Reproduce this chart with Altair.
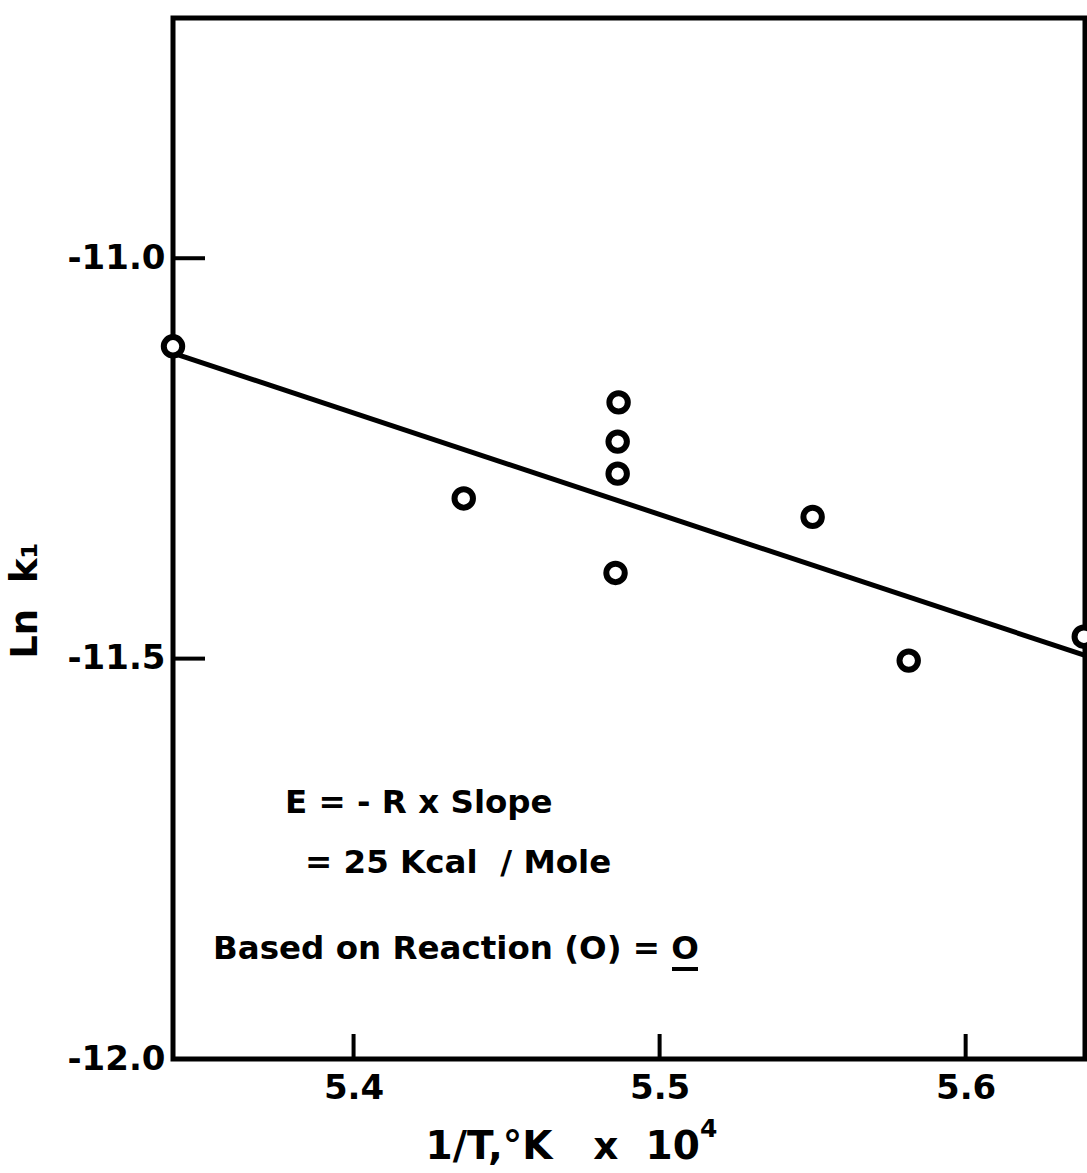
import altair as alt
import pandas as pd

# Rate constant data: ln k1 against reciprocal temperature (x 10^4)
inv_temp = [5.341, 5.436, 5.4866, 5.4863, 5.4863, 5.4856, 5.550, 5.5814, 5.6386]
ln_k1 = [-11.110, -11.300, -11.180, -11.229, -11.269, -11.393, -11.323, -11.5025, -11.4726]

# Least-squares line end points
fit_x = [5.341, 5.639]
fit_y = [-11.1185, -11.496]

x_ticks = [5.4, 5.5, 5.6]
y_ticks = [-12.0, -11.5, -11.0]
y_inner_ticks = [-11.0, -11.5]

W, H = 912, 1041
LEFT, TOP = 173, 18
FONT = "DejaVu Sans"
NB = "\u00a0"

x_scale = alt.Scale(domain=[5.341, 5.639], nice=False, zero=False)
y_scale = alt.Scale(domain=[-12.0, -10.7], nice=False, zero=False)

points_df = pd.DataFrame({"x": inv_temp, "y": ln_k1})
fit_df = pd.DataFrame({"x": fit_x, "y": fit_y})
xt_df = pd.DataFrame({"x": x_ticks})
yt_df = pd.DataFrame({"y": y_inner_ticks})

x_axis = alt.Axis(
    values=x_ticks, labelExpr="format(datum.value, '.1f')", ticks=False, domain=False,
    grid=False, labelFontSize=34, labelFont=FONT, labelFontWeight="bold",
    labelColor="black", labelPadding=12,
    title=f"1/T,°K{NB*3}x{NB*2}10", titleFont=FONT, titleFontSize=39,
    titleFontWeight="bold", titleColor="black", titleX=425 - LEFT, titleY=99,
    titleBaseline="alphabetic", titleAlign="left", titleAnchor="start",
)
y_axis = alt.Axis(
    values=y_ticks, labelExpr="'-' + format(abs(datum.value), '.1f')", ticks=False,
    domain=False, grid=False, labelFontSize=34, labelFont=FONT,
    labelFontWeight="bold", labelColor="black", labelPadding=8,
    title=f"Ln{NB*2}k₁", titleFont=FONT, titleFontSize=37, titleFontWeight="bold",
    titleColor="black", titleAngle=270, titleX=-148, titleY=582,
    titleBaseline="middle", titleAnchor="middle",
)

base_x = alt.X("x:Q", scale=x_scale, axis=x_axis)
base_y = alt.Y("y:Q", scale=y_scale, axis=y_axis)

fit_line = alt.Chart(fit_df).mark_line(color="black", strokeWidth=5).encode(
    x=base_x, y=base_y
)

# inward-pointing tick marks
y_tick_marks = alt.Chart(yt_df).mark_rule(color="black", strokeWidth=4).encode(
    y=alt.Y("y:Q", scale=y_scale), x=alt.value(0), x2=alt.value(32)
)
x_tick_marks = alt.Chart(xt_df).mark_rule(color="black", strokeWidth=4).encode(
    x=alt.X("x:Q", scale=x_scale), y=alt.value(H), y2=alt.value(H - 25)
)

dots = alt.Chart(points_df).mark_point(
    shape="circle", filled=True, fill="white", stroke="black", strokeWidth=6,
    size=340, opacity=1,
).encode(x=alt.X("x:Q", scale=x_scale), y=alt.Y("y:Q", scale=y_scale))

# superscript exponent of the x-axis title
exponent = alt.Chart(pd.DataFrame({"t": ["4"]})).mark_text(
    align="left", baseline="alphabetic", font=FONT, fontWeight="bold",
    fontSize=25, color="black",
).encode(text="t:N", x=alt.value(700 - LEFT), y=alt.value(1137 - TOP))

notes = [
    ("E = - R x Slope", 285, 813),
    (f"= 25 Kcal{NB*2}/ Mole", 305, 873),
    ("Based on Reaction (O) = O", 213, 959),
]
note_layers = [
    alt.Chart(pd.DataFrame({"t": [t]})).mark_text(
        align="left", baseline="alphabetic", font=FONT, fontWeight="bold",
        fontSize=32.5, color="black",
    ).encode(text="t:N", x=alt.value(px - LEFT), y=alt.value(py - TOP))
    for t, px, py in notes
]

underline = alt.Chart(pd.DataFrame({"a": [0]})).mark_rule(
    color="black", strokeWidth=4
).encode(x=alt.value(672 - LEFT), x2=alt.value(698 - LEFT), y=alt.value(969 - TOP))

chart = alt.layer(
    fit_line, y_tick_marks, x_tick_marks, dots, exponent, *note_layers, underline
).properties(
    width=W, height=H,
    padding={"left": LEFT, "top": TOP, "right": 2, "bottom": 114},
    autosize=alt.AutoSizeParams(type="none"),
    background="white",
).configure_view(stroke="black", strokeWidth=5)

chart.save("out.html", embed_options={"renderer": "svg", "actions": False})
